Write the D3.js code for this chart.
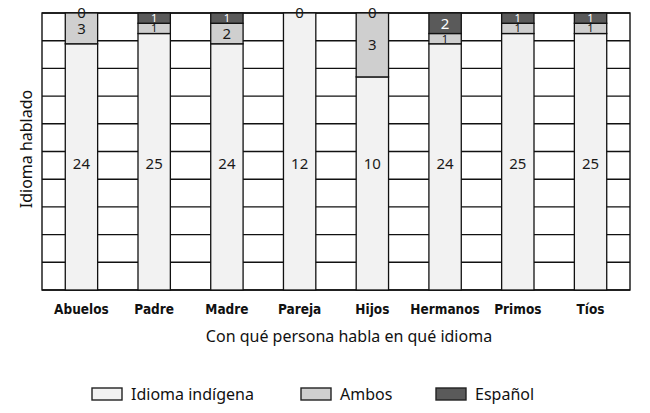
<!DOCTYPE html>
<html>
<head>
<meta charset="utf-8">
<script src="https://cdn.jsdelivr.net/npm/d3@7"></script>
<style>
    body { margin: 0; background: #fff; }
    .tick-label { font-family: "DejaVu Sans Condensed", "Liberation Sans Narrow", sans-serif; font-weight: bold; font-size: 13.5px; fill: #111; }
    .title, .legend-text { font-family: "Noto Sans", sans-serif; font-size: 16px; fill: #111; }
    .value { font-family: "Noto Sans", sans-serif; }
</style>
</head>
<body>
<div class="chart"></div>
<script>
// data
const categories = ['Abuelos', 'Padre', 'Madre', 'Pareja', 'Hijos', 'Hermanos', 'Primos', 'Tíos'];
const indigena = [24, 25, 24, 12, 10, 24, 25, 25];
const ambos = [3, 1, 2, 0, 3, 1, 1, 1];
const espanol = [0, 1, 1, null, 0, 2, 1, 1];

const seriesKeys = ['indigena', 'ambos', 'espanol'];
const seriesNames = ['Idioma indígena', 'Ambos', 'Español'];
const colors = ['#f2f2f2', '#cfcfcf', '#5a5a5a'];
const labelColors = ['#1a1a1a', '#1a1a1a', '#ffffff'];

const data = categories.map((c, i) => ({
    cat: c,
    indigena: indigena[i],
    ambos: ambos[i],
    espanol: espanol[i]
}));

const margin = { top: 13, right: 20, bottom: 123, left: 42 },
    width = 588,
    height = 277;

const svg = d3.select('.chart')
    .append('svg')
    .attr('width', 650)
    .attr('height', 413);

const group = svg.append('g')
    .attr('transform', `translate(${margin.left},${margin.top})`);

const xScale = d3.scaleBand()
    .domain(categories)
    .range([0, width])
    .paddingInner(0.555)
    .paddingOuter(0.32);

const yScale = d3.scaleLinear()
    .domain([0, 1])
    .range([height, 0]);

// horizontal gridlines every 10%
group.selectAll('.grid')
    .data(yScale.ticks(10))
    .enter()
    .append('line')
    .attr('class', 'grid')
    .attr('x1', 0)
    .attr('x2', width)
    .attr('y1', d => yScale(d))
    .attr('y2', d => yScale(d))
    .attr('stroke', '#111')
    .attr('stroke-width', 1.4);

group.append('rect')
    .attr('width', width)
    .attr('height', height)
    .attr('fill', 'none')
    .attr('stroke', '#111')
    .attr('stroke-width', 1.4);

const stack = d3.stack()
    .keys(seriesKeys)
    .value((d, key) => d[key] || 0)
    .offset(d3.stackOffsetExpand);

const stacked = stack(data);

// label size: thin segments get a smaller label so it stays inside
const segHeight = d => yScale(d[0]) - yScale(d[1]);
const labelSize = d => {
    const h = segHeight(d);
    return h === 0 ? 15 : Math.min(15, h + 1);
};

// each layer covers the labels of the layer below, as in the original
stacked.forEach((layer, li) => {
    group.selectAll('.bar-' + li)
        .data(layer)
        .enter()
        .append('rect')
        .attr('x', d => xScale(d.data.cat))
        .attr('width', xScale.bandwidth())
        .attr('y', d => yScale(d[1]))
        .attr('height', segHeight)
        .attr('fill', colors[li])
        .attr('stroke', '#111')
        .attr('stroke-width', 1.3);

    group.selectAll('.label-' + li)
        .data(layer.filter(d => d.data[layer.key] !== null))
        .enter()
        .append('text')
        .attr('class', 'value')
        .attr('x', d => xScale(d.data.cat) + xScale.bandwidth() / 2)
        // the base series labels sit at a common height in the original
        .attr('y', d => li === 0 ? yScale(0.455) : yScale((d[0] + d[1]) / 2))
        .attr('dy', '0.36em')
        .attr('text-anchor', 'middle')
        .attr('font-size', d => labelSize(d) + 'px')
        .attr('fill', d => segHeight(d) === 0 ? '#1a1a1a' : labelColors[li])
        .text(d => d.data[layer.key]);
});

// category labels
const xAxis = d3.axisBottom(xScale).tickSize(0).tickPadding(14);
const xDisplay = group.append('g')
    .attr('transform', `translate(0,${height})`)
    .call(xAxis);
xDisplay.select('.domain').remove();
xDisplay.selectAll('text')
    .attr('class', 'tick-label')
    .attr('font-family', null)
    .attr('font-size', null);

// axis titles
svg.append('text')
    .attr('class', 'title')
    .attr('x', 349)
    .attr('y', 342)
    .attr('text-anchor', 'middle')
    .text('Con qué persona habla en qué idioma');

svg.append('text')
    .attr('class', 'title')
    .attr('transform', 'translate(32,149) rotate(-90)')
    .attr('text-anchor', 'middle')
    .text('Idioma hablado');

// legend
const legendX = [92, 301, 436];
const legend = svg.selectAll('.legend')
    .data(seriesNames)
    .enter()
    .append('g')
    .attr('class', 'legend')
    .attr('transform', (d, i) => `translate(${legendX[i]},388)`);

legend.append('rect')
    .attr('width', 30)
    .attr('height', 12)
    .attr('fill', (d, i) => colors[i])
    .attr('stroke', '#222')
    .attr('stroke-width', 1.4);

legend.append('text')
    .attr('class', 'legend-text')
    .attr('x', 39)
    .attr('y', 6)
    .attr('dy', '0.35em')
    .text(d => d);
</script>
</body>
</html>
